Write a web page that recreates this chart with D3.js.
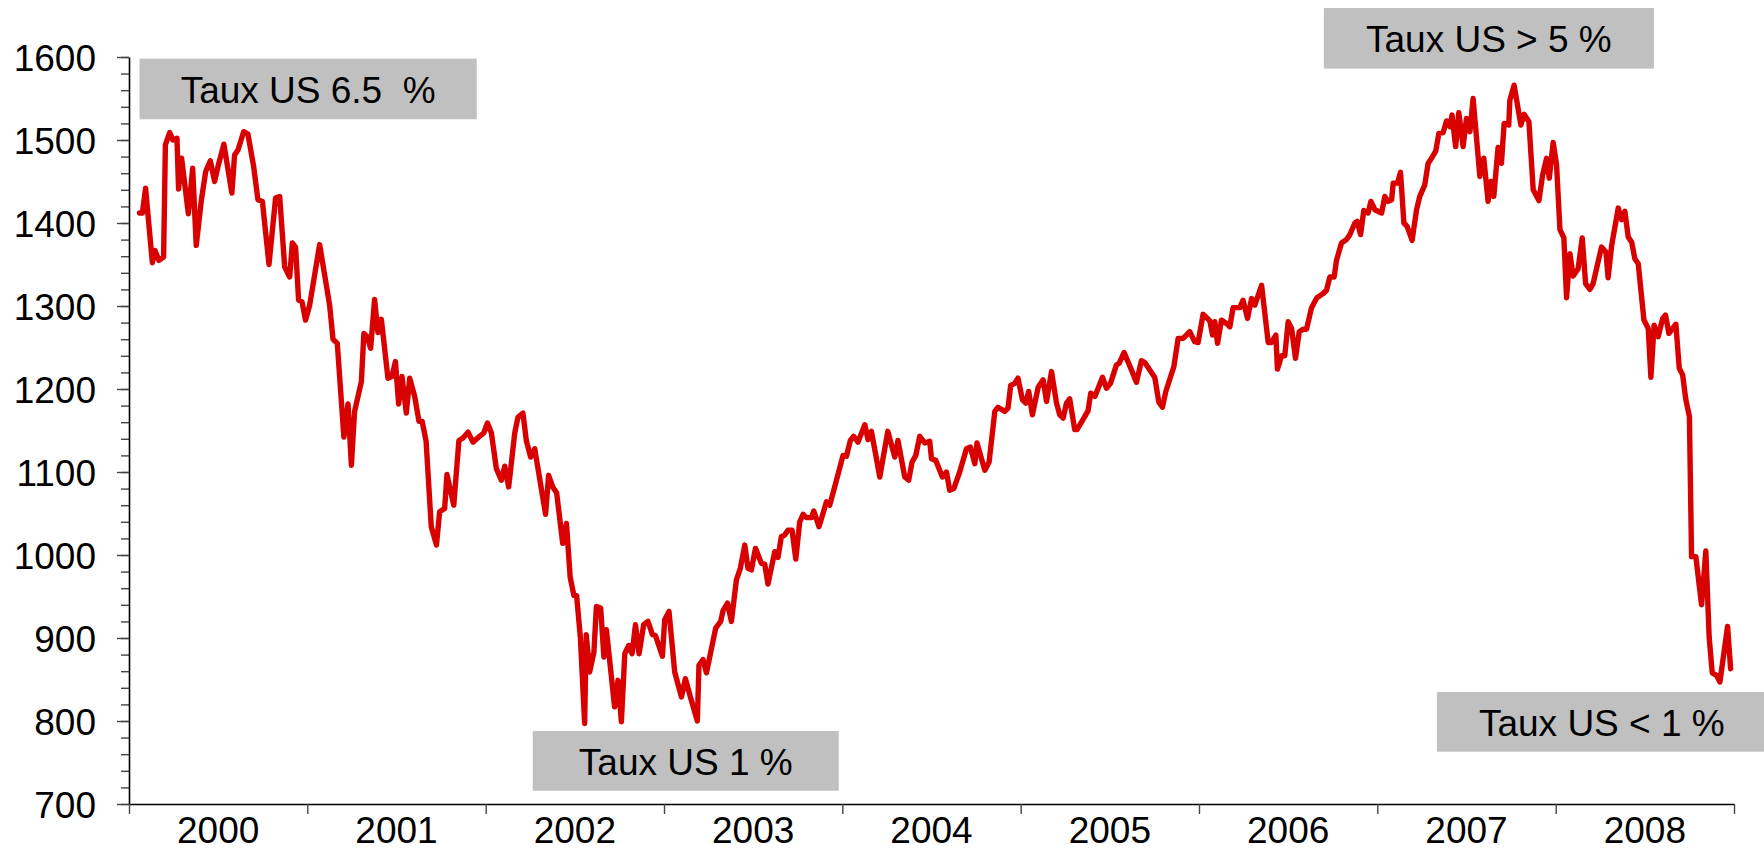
<!DOCTYPE html>
<html>
<head>
<meta charset="utf-8">
<script src="https://cdn.jsdelivr.net/npm/d3@7"></script>
<style>
  body { margin: 0; background: #fff; }
  text { font-family: "Liberation Sans", Arial, sans-serif; }
</style>
</head>
<body>
<div id="wrapper"></div>
<script>
// dates as decimal years
const dates = [
  2000.059,2000.075,2000.093,2000.131,2000.145,2000.168,2000.194,2000.204,2000.228,2000.246,
  2000.269,2000.278,2000.295,2000.333,2000.357,2000.377,2000.406,2000.430,2000.456,2000.480,
  2000.499,2000.532,2000.577,2000.592,2000.611,2000.643,2000.667,2000.699,2000.723,2000.748,
  2000.785,2000.822,2000.845,2000.873,2000.901,2000.916,2000.934,2000.951,2000.970,2000.990,
  2001.013,2001.069,2001.125,2001.144,2001.168,2001.205,2001.228,2001.247,2001.265,2001.303,
  2001.317,2001.336,2001.355,2001.377,2001.396,2001.415,2001.452,2001.474,2001.494,2001.512,
  2001.531,2001.555,2001.574,2001.602,2001.626,2001.644,2001.666,
  2001.695,2001.724,2001.742,2001.770,2001.783,2001.821,2001.850,2001.873,2001.901,2001.929,2001.966,2001.989,
  2002.010,2002.032,2002.060,2002.088,2002.107,2002.129,2002.163,2002.181,2002.209,2002.228,
  2002.252,2002.275,2002.336,2002.353,2002.376,2002.398,2002.432,2002.453,2002.474,2002.495,
  2002.510,2002.531,2002.555,2002.564,2002.583,2002.607,2002.621,2002.645,2002.663,2002.677,
  2002.723,2002.742,2002.761,2002.780,2002.802,2002.821,2002.840,2002.860,2002.886,2002.910,
  2002.935,2002.952,2002.991,
  2003.004,2003.028,2003.060,2003.098,2003.120,2003.148,2003.187,2003.196,2003.219,2003.238,
  2003.290,2003.318,2003.331,2003.356,2003.378,2003.406,2003.428,2003.453,2003.471,2003.490,
  2003.513,2003.546,2003.565,2003.583,2003.621,2003.639,2003.658,2003.677,2003.695,2003.718,
  2003.739,2003.761,2003.780,2003.799,2003.827,2003.840,2003.869,2003.911,2003.929,2003.957,
  2004.004,2004.023,2004.045,2004.064,2004.088,2004.126,2004.144,2004.163,2004.210,2004.255,
  2004.294,2004.312,2004.350,2004.372,2004.391,2004.412,2004.434,2004.462,2004.490,2004.500,
  2004.524,2004.561,2004.584,2004.602,2004.625,2004.658,2004.696,2004.718,2004.743,2004.755,
  2004.799,2004.823,2004.855,2004.873,2004.911,2004.929,2004.944,2004.967,2004.985,
  2005.010,2005.029,2005.045,2005.066,2005.098,2005.126,2005.145,2005.173,2005.201,2005.219,
  2005.238,2005.257,2005.275,2005.303,2005.316,2005.360,2005.378,2005.393,2005.416,2005.459,
  2005.481,2005.504,2005.537,2005.552,2005.580,2005.627,2005.649,2005.677,2005.696,2005.752,
  2005.775,2005.795,2005.814,2005.859,2005.883,2005.911,2005.948,2005.976,2005.995,
  2006.023,2006.061,2006.076,2006.089,2006.104,2006.126,2006.154,2006.173,2006.191,2006.229,
  2006.247,2006.272,2006.295,2006.313,2006.351,2006.388,2006.407,2006.431,2006.440,2006.463,
  2006.481,2006.500,2006.519,2006.541,2006.562,2006.584,2006.603,2006.631,2006.661,2006.696,
  2006.715,2006.734,2006.758,2006.771,2006.799,2006.827,2006.846,2006.874,2006.887,2006.906,
  2006.924,2006.948,2006.964,2006.986,
  2007.024,2007.042,2007.061,2007.080,2007.089,2007.113,2007.130,2007.149,2007.167,2007.195,
  2007.220,2007.238,2007.266,2007.285,2007.304,2007.328,2007.345,2007.369,2007.388,2007.407,
  2007.419,2007.439,2007.457,2007.481,2007.500,2007.519,2007.537,2007.575,2007.597,2007.621,
  2007.637,2007.653,2007.677,2007.696,2007.711,2007.737,2007.743,2007.767,2007.805,2007.823,
  2007.850,2007.874,2007.906,2007.927,2007.949,2007.964,2007.986,
  2008.005,2008.024,2008.046,2008.061,2008.080,2008.098,2008.126,2008.149,2008.168,2008.192,
  2008.210,2008.257,2008.282,2008.294,2008.314,2008.351,2008.370,2008.388,2008.407,2008.426,
  2008.444,2008.463,2008.495,2008.519,2008.534,2008.552,2008.575,2008.600,2008.616,2008.635,
  2008.674,2008.693,2008.712,2008.730,2008.750,2008.762,2008.786,2008.818,2008.842,2008.861,
  2008.878,2008.902,2008.921,2008.964,2008.981
]

const values = [
  1412,1412,1442,1352,1367,1355,1359,1494,1509,1500,
  1502,1441,1478,1411,1466,1373,1428,1462,1475,1450,
  1468,1495,1436,1482,1488,1510,1507,1468,1428,1426,
  1350,1430,1432,1347,1335,1376,1371,1307,1305,1283,
  1301,1374,1301,1260,1255,1142,1182,1108,1173,1209,
  1267,1263,1249,1308,1268,1284,1213,1215,1233,1182,
  1215,1171,1213,1191,1161,1161,1137,
  1034,1012,1052,1056,1097,1060,1138,1141,1148,1136,1143,1147,
  1159,1147,1104,1090,1107,1082,1147,1166,1171,1138,
  1118,1128,1049,1096,1082,1075,1014,1038,973,951,
  951,901,797,904,859,883,938,936,877,910,
  817,849,799,881,891,881,916,881,916,920,
  904,903,878,
  922,932,859,829,851,829,800,867,874,858,
  912,920,933,942,920,970,984,1012,984,982,
  1008,990,989,965,1004,997,1022,1024,1030,1030,
  995,1040,1049,1045,1045,1053,1034,1064,1060,1082,
  1120,1119,1138,1143,1136,1157,1139,1149,1094,1149,
  1118,1138,1094,1090,1112,1120,1143,1135,1137,1116,
  1114,1094,1100,1078,1080,1100,1128,1130,1110,1135,
  1102,1112,1173,1178,1173,1177,1204,1207,1213,
  1187,1183,1197,1169,1202,1211,1185,1221,1183,1169,
  1165,1183,1188,1151,1151,1167,1174,1195,1191,1214,
  1201,1207,1229,1231,1244,1220,1208,1234,1232,1214,
  1184,1178,1197,1227,1261,1261,1269,1257,1256,
  1290,1282,1265,1281,1255,1283,1279,1275,1298,1298,
  1307,1285,1309,1301,1325,1256,1256,1265,1224,1240,
  1240,1281,1273,1237,1269,1272,1272,1298,1310,1315,
  1319,1335,1335,1355,1376,1380,1386,1400,1402,1386,
  1415,1412,1426,1416,
  1412,1432,1426,1428,1448,1448,1461,1400,1396,1379,
  1416,1432,1446,1472,1478,1487,1508,1509,1523,1516,
  1530,1492,1533,1492,1526,1510,1550,1456,1478,1426,
  1450,1432,1491,1472,1520,1518,1548,1566,1518,1531,
  1522,1440,1427,1458,1478,1454,1497,
  1470,1392,1382,1310,1363,1336,1345,1382,1327,1320,
  1327,1371,1365,1334,1373,1418,1404,1414,1383,1377,
  1357,1351,1283,1273,1214,1277,1263,1285,1289,1267,
  1278,1225,1217,1187,1167,998,998,940,1005,900,
  858,855,847,914,863
]

const years = [2000, 2001, 2002, 2003, 2004, 2005, 2006, 2007, 2008]
const yTicks = [700, 800, 900, 1000, 1100, 1200, 1300, 1400, 1500, 1600]

// annotation boxes: label, left / right date, top / bottom value
const noteLabels = ["Taux US 6.5  %", "Taux US > 5 %", "Taux US 1 %", "Taux US < 1 %"]
const noteFrom = [2000.059, 2006.700, 2002.264, 2007.334]
const noteTo = [2001.950, 2008.551, 2003.980, 2009.184]
const noteTop = [1598, 1659, 788, 835]
const noteBottom = [1525, 1586, 716, 763]

let dimensions = {
  width: 1764,
  height: 851,
  margin: { top: 57, right: 30, bottom: 47, left: 129 }
}
dimensions.boundedWidth = dimensions.width - dimensions.margin.left - dimensions.margin.right
dimensions.boundedHeight = dimensions.height - dimensions.margin.top - dimensions.margin.bottom

const data = dates.map((t, i) => ({ t: t, v: values[i] }))

const xScale = d3.scaleLinear()
  .domain([2000, 2009])
  .range([0, dimensions.boundedWidth])

const yScale = d3.scaleLinear()
  .domain([700, 1600])
  .range([dimensions.boundedHeight, 0])

const wrapper = d3.select("#wrapper")
  .append("svg")
  .attr("width", dimensions.width)
  .attr("height", dimensions.height)

const bounds = wrapper.append("g")
  .attr("transform", `translate(${dimensions.margin.left},${dimensions.margin.top})`)

// y axis: minor ticks every 20, major every 100
const yMinor = bounds.append("g")
  .call(d3.axisLeft(yScale).tickValues(d3.range(700, 1601, 20)).tickSize(8).tickFormat(""))
yMinor.select(".domain").remove()

const yAxis = bounds.append("g")
  .call(d3.axisLeft(yScale)
    .tickValues(yTicks)
    .tickSize(12)
    .tickSizeOuter(0)
    .tickPadding(21)
    .tickFormat(d3.format("d")))

yAxis.selectAll("text")
  .attr("dy", "0.36em")
  .style("font-size", "37px")
  .style("font-family", "'Liberation Sans', Arial, sans-serif")
  .attr("fill", "#000")

bounds.selectAll(".tick line").attr("stroke", "#444").attr("stroke-width", 1.4)
yAxis.select(".domain").attr("stroke", "#000").attr("stroke-width", 1.6)

// x axis: ticks between years, labels centred in each year
const xAxis = bounds.append("g")
  .attr("transform", `translate(0,${dimensions.boundedHeight})`)
  .call(d3.axisBottom(xScale).tickValues(d3.range(2000, 2010)).tickSize(10).tickSizeOuter(0).tickFormat(""))

xAxis.selectAll(".tick line").attr("stroke", "#444").attr("stroke-width", 1.4)
xAxis.select(".domain").attr("stroke", "#000").attr("stroke-width", 1.6)

bounds.append("g").selectAll("text")
  .data(years)
  .enter().append("text")
  .attr("x", d => xScale(d + 0.5))
  .attr("y", dimensions.boundedHeight + 39)
  .attr("text-anchor", "middle")
  .style("font-size", "37px")
  .attr("fill", "#000")
  .text(d => d)

const lineGenerator = d3.line()
  .x(d => xScale(d.t))
  .y(d => yScale(d.v))

bounds.append("path")
  .datum(data)
  .attr("d", lineGenerator)
  .attr("fill", "none")
  .attr("stroke", "#d90000")
  .attr("stroke-width", 5.4)
  .attr("stroke-linejoin", "round")
  .attr("stroke-linecap", "round")

const notes = bounds.selectAll(".note")
  .data(noteLabels)
  .enter().append("g")
  .attr("class", "note")

notes.append("rect")
  .attr("x", (d, i) => xScale(noteFrom[i]))
  .attr("y", (d, i) => yScale(noteTop[i]))
  .attr("width", (d, i) => xScale(noteTo[i]) - xScale(noteFrom[i]))
  .attr("height", (d, i) => yScale(noteBottom[i]) - yScale(noteTop[i]))
  .attr("fill", "#c0c0c0")

notes.append("text")
  .attr("x", (d, i) => (xScale(noteFrom[i]) + xScale(noteTo[i])) / 2)
  .attr("y", (d, i) => yScale(noteTop[i]) + 44)
  .attr("text-anchor", "middle")
  .style("font-size", "37px")
  .style("white-space", "pre")
  .attr("xml:space", "preserve")
  .attr("fill", "#000")
  .text(d => d)
</script>
</body>
</html>
